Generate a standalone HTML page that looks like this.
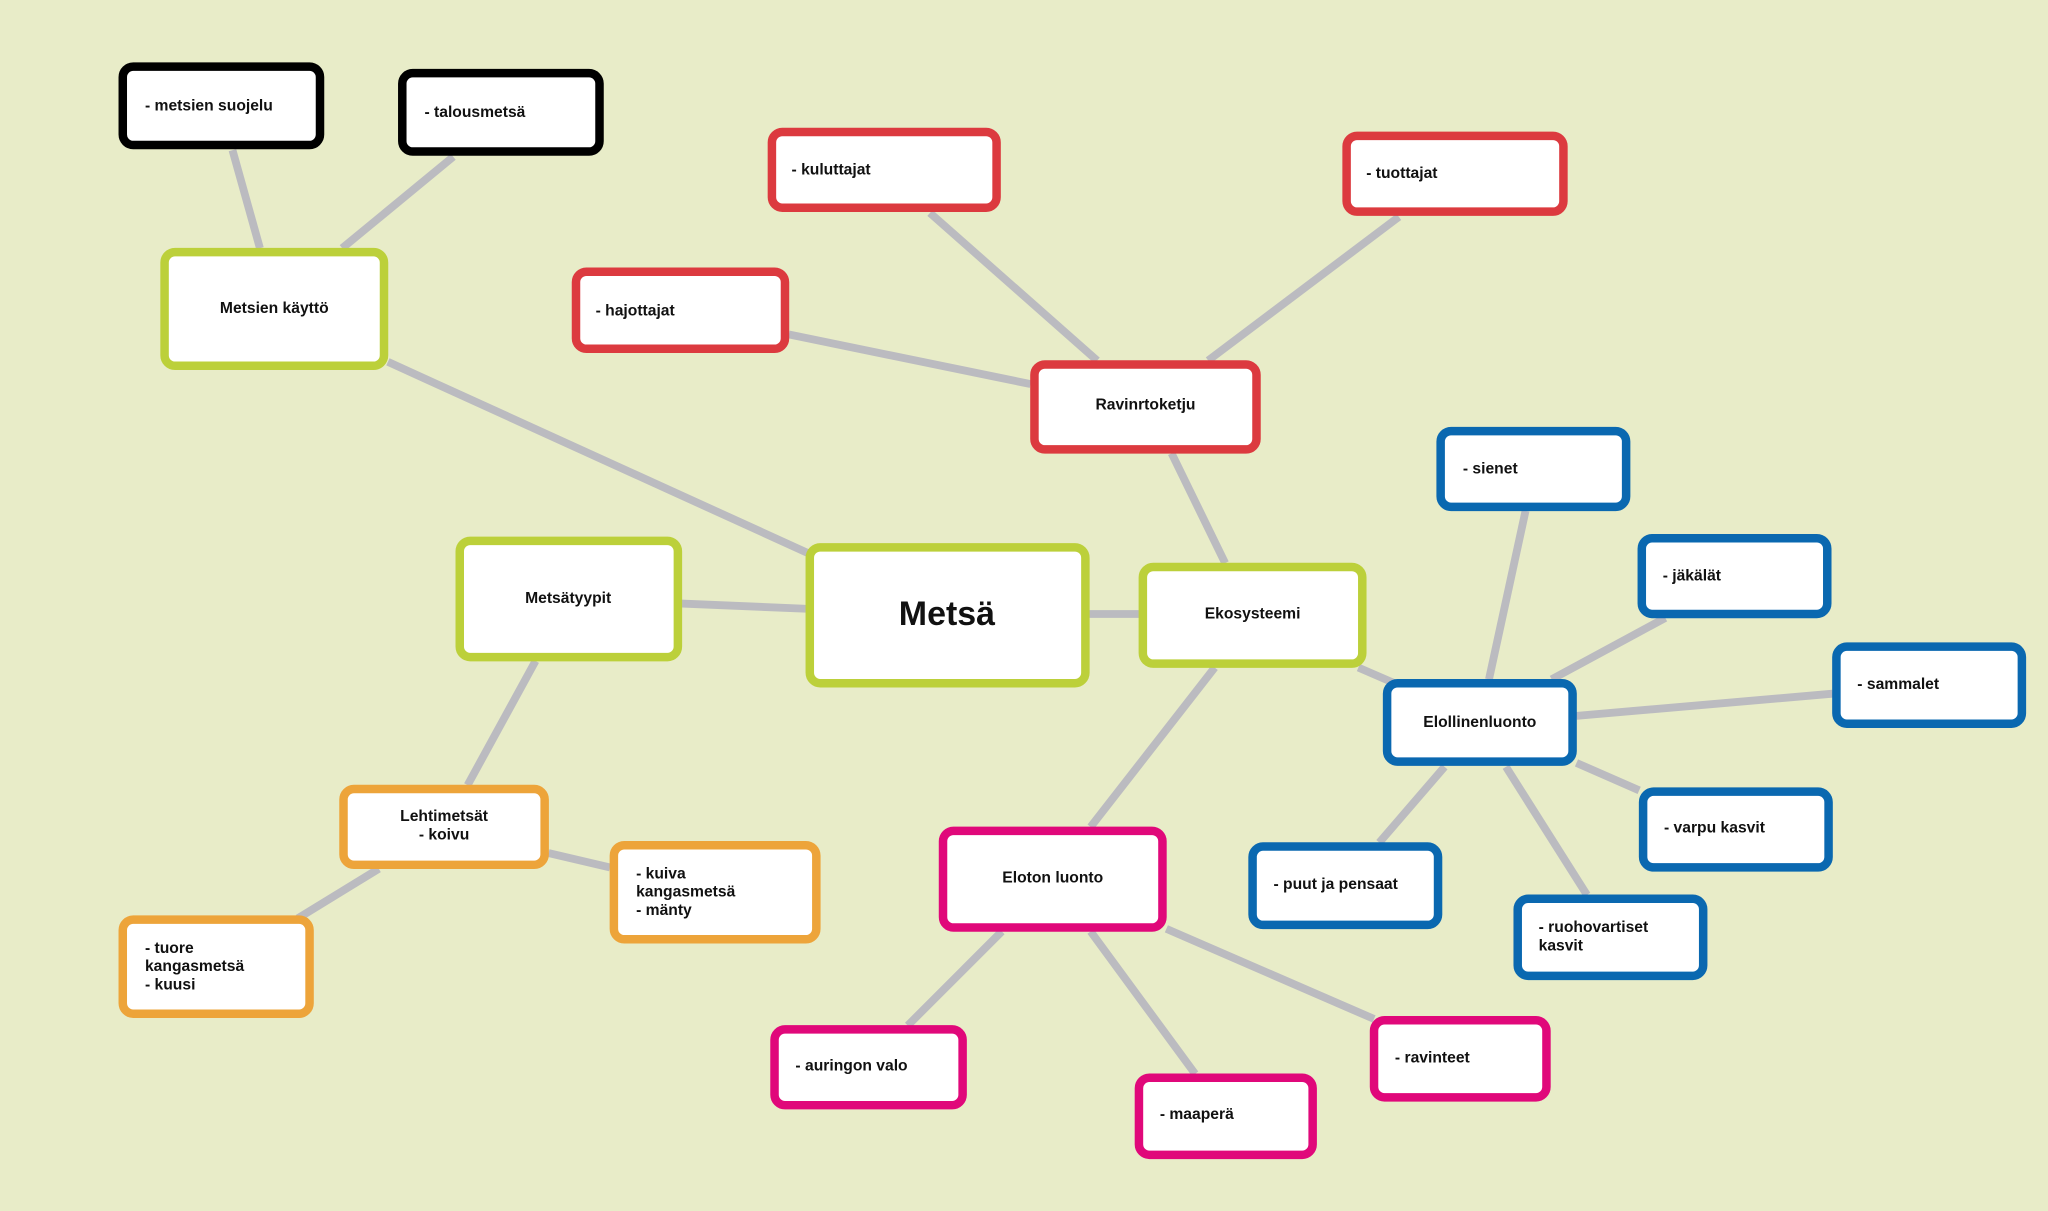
<!DOCTYPE html>
<html><head><meta charset="utf-8"><style>
html,body{margin:0;padding:0;background:#e8ecc8;}
svg{display:block}
text{font-family:"Liberation Sans",sans-serif;font-weight:bold;font-size:12px;fill:#111;dominant-baseline:central}
.c{text-anchor:middle}
</style></head><body>
<svg width="2048" height="1211" viewBox="0 0 1568 927" preserveAspectRatio="none" xmlns="http://www.w3.org/2000/svg">
<rect x="0" y="0" width="1568" height="927" fill="#e8ecc8"/>
<g stroke="#bbbbc0" stroke-width="6" stroke-linecap="butt">
<line x1="178" y1="115" x2="199" y2="190"/>
<line x1="347" y1="120" x2="262" y2="190"/>
<line x1="297" y1="277" x2="620" y2="424"/>
<line x1="712" y1="163" x2="840" y2="276"/>
<line x1="1071" y1="166" x2="925" y2="276"/>
<line x1="604" y1="256" x2="789" y2="294"/>
<line x1="897" y1="347" x2="938" y2="431"/>
<line x1="522" y1="462" x2="617" y2="466"/>
<line x1="834" y1="470" x2="872" y2="470"/>
<line x1="410" y1="506" x2="358" y2="601"/>
<line x1="420" y1="653" x2="467" y2="664"/>
<line x1="290" y1="665" x2="228" y2="703"/>
<line x1="930" y1="511" x2="835" y2="633"/>
<line x1="1040" y1="511" x2="1070" y2="524"/>
<line x1="1168" y1="391" x2="1140" y2="520"/>
<line x1="1275" y1="473" x2="1188" y2="520"/>
<line x1="1207" y1="548" x2="1403" y2="531"/>
<line x1="1207" y1="584" x2="1255" y2="605"/>
<line x1="1106" y1="587" x2="1056" y2="645"/>
<line x1="1153" y1="587" x2="1215" y2="685"/>
<line x1="767" y1="713" x2="695" y2="785"/>
<line x1="835" y1="713" x2="915" y2="822"/>
<line x1="893" y1="711" x2="1052" y2="780"/>
</g>
<g fill="#fff" stroke-width="6.5">
<rect x="94" y="51" width="151" height="60" rx="8" stroke="#000"/>
<rect x="308" y="56" width="151" height="60" rx="8" stroke="#000"/>
<rect x="126" y="193" width="168" height="87" rx="8" stroke="#bcd03a"/>
<rect x="591" y="101" width="172" height="58" rx="8" stroke="#dc3a3f"/>
<rect x="1031" y="104" width="166" height="58" rx="8" stroke="#dc3a3f"/>
<rect x="441" y="208" width="160" height="59" rx="8" stroke="#dc3a3f"/>
<rect x="792" y="279" width="170" height="65" rx="8" stroke="#dc3a3f"/>
<rect x="1103" y="330" width="142" height="58" rx="8" stroke="#0a68b0"/>
<rect x="1257" y="412" width="142" height="58" rx="8" stroke="#0a68b0"/>
<rect x="1406" y="495" width="142" height="59" rx="8" stroke="#0a68b0"/>
<rect x="1062" y="523" width="142" height="60" rx="8" stroke="#0a68b0"/>
<rect x="1258" y="606" width="142" height="58" rx="8" stroke="#0a68b0"/>
<rect x="959" y="648" width="142" height="60" rx="8" stroke="#0a68b0"/>
<rect x="1162" y="688" width="142" height="59" rx="8" stroke="#0a68b0"/>
<rect x="352" y="414" width="167" height="89" rx="8" stroke="#bcd03a"/>
<rect x="620" y="419" width="211" height="104" rx="8" stroke="#bcd03a"/>
<rect x="875" y="434" width="168" height="74" rx="8" stroke="#bcd03a"/>
<rect x="263" y="604" width="154" height="58" rx="8" stroke="#eda43a"/>
<rect x="470" y="647" width="155" height="72" rx="8" stroke="#eda43a"/>
<rect x="94" y="704" width="143" height="72" rx="8" stroke="#eda43a"/>
<rect x="722" y="636" width="168" height="74" rx="8" stroke="#e0087a"/>
<rect x="593" y="788" width="144" height="58" rx="8" stroke="#e0087a"/>
<rect x="872" y="825" width="133" height="59" rx="8" stroke="#e0087a"/>
<rect x="1052" y="781" width="132" height="59" rx="8" stroke="#e0087a"/>
</g>
<text x="111" y="81">- metsien suojelu</text>
<text x="325" y="86">- talousmetsä</text>
<text class="c" x="210" y="236">Metsien käyttö</text>
<text x="606" y="130">- kuluttajat</text>
<text x="1046" y="133">- tuottajat</text>
<text x="456" y="238">- hajottajat</text>
<text class="c" x="877" y="310">Ravinrtoketju</text>
<text x="1120" y="359">- sienet</text>
<text x="1273" y="441">- jäkälät</text>
<text x="1422" y="524">- sammalet</text>
<text class="c" x="1133" y="553">Elollinenluonto</text>
<text x="1274" y="634">- varpu kasvit</text>
<text x="975" y="677">- puut ja pensaat</text>
<text x="1178" y="710">- ruohovartiset</text>
<text x="1178" y="724">kasvit</text>
<text class="c" x="435" y="458">Metsätyypit</text>
<text class="c" x="725" y="470" style="font-size:26px">Metsä</text>
<text class="c" x="959" y="470">Ekosysteemi</text>
<text class="c" x="340" y="625">Lehtimetsät</text>
<text class="c" x="340" y="639">- koivu</text>
<text x="487" y="669">- kuiva</text>
<text x="487" y="683">kangasmetsä</text>
<text x="487" y="697">- mänty</text>
<text x="111" y="726">- tuore</text>
<text x="111" y="740">kangasmetsä</text>
<text x="111" y="754">- kuusi</text>
<text class="c" x="806" y="672">Eloton luonto</text>
<text x="609" y="816">- auringon valo</text>
<text x="888" y="853">- maaperä</text>
<text x="1068" y="810">- ravinteet</text>
</svg>
</body></html>
